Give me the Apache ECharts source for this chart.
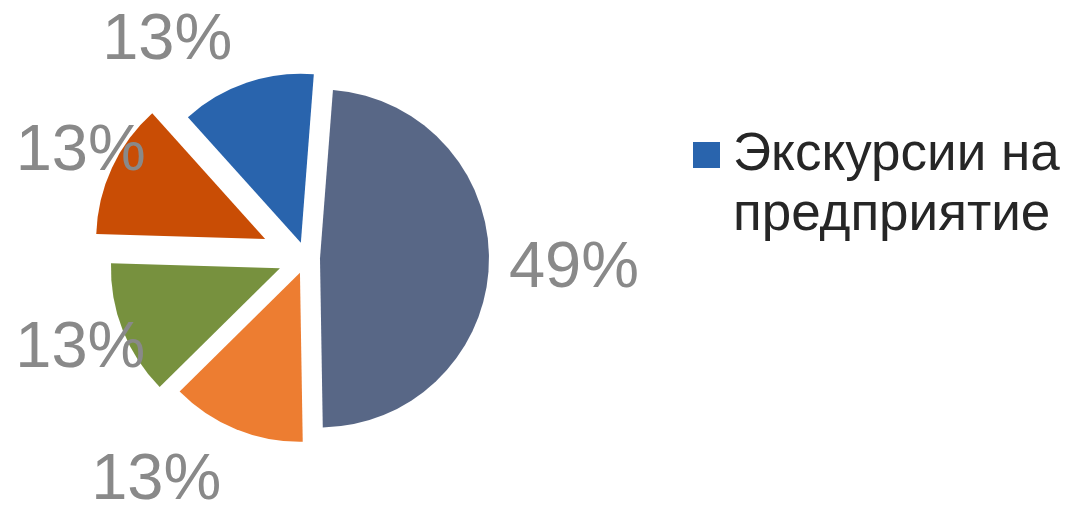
<!DOCTYPE html>
<html><head><meta charset="utf-8">
<script src="https://cdn.jsdelivr.net/npm/echarts@6/dist/echarts.min.js"></script>
<style>html,body{margin:0;padding:0;background:#fff}#c{width:1066px;height:505px}</style>
</head><body><div id="c"></div>
<script>
// ---- data ----
const categories = ['Категория 1', 'Категория 2', 'Категория 3', 'Категория 4', 'Экскурсии на предприятие'];
const values = [49, 13, 13, 13, 13];
const legendNames = ['Экскурсии на предприятие'];

// ---- styles ----
const colors = ['#586786', '#ED7D31', '#77913E', '#C94D05', '#2964AD'];
const explode = [14, 16, 28, 45, 16];
const labelShift = [[5, 5], [-6, 43], [37, 15], [48, -12], [-6, -32]];

const chart = echarts.init(document.getElementById('c'));
const series = categories.map((_, k) => ({
  type: 'pie',
  center: [306, 258],
  radius: 169,
  startAngle: 85.6,
  clockwise: true,
  selectedMode: 'multiple',
  selectedOffset: explode[k],
  silent: true,
  animation: false,
  avoidLabelOverlap: false,
  minShowLabelAngle: 0,
  emphasis: { disabled: true },
  label: {
    show: true, position: 'outside',
    formatter: p => Math.round(p.percent) + '%',
    fontSize: 65, color: '#898989', fontFamily: 'Liberation Sans'
  },
  labelLine: { show: false, length: 10, length2: 0 },
  labelLayout: { dx: labelShift[k][0], dy: labelShift[k][1] },
  data: categories.map((name, i) => ({
    name: name, value: values[i], selected: i === k,
    itemStyle: { color: i === k ? colors[i] : 'rgba(0,0,0,0)' },
    label: { show: i === k }
  }))
}));

chart.setOption({
  animation: false,
  legend: {
    data: legendNames.map(n => ({ name: n, itemStyle: { color: colors[categories.indexOf(n)] } })),
    orient: 'vertical', left: 693, top: 65, padding: 0,
    icon: 'rect', itemWidth: 27, itemHeight: 26, selectedMode: false,
    formatter: n => '\n' + n.replace(' на ', ' на\n'),
    textStyle: { fontSize: 53, lineHeight: 60, color: '#262626', fontFamily: 'Liberation Sans', padding: [0, 0, 0, 8] }
  },
  series: series
});
</script></body></html>
